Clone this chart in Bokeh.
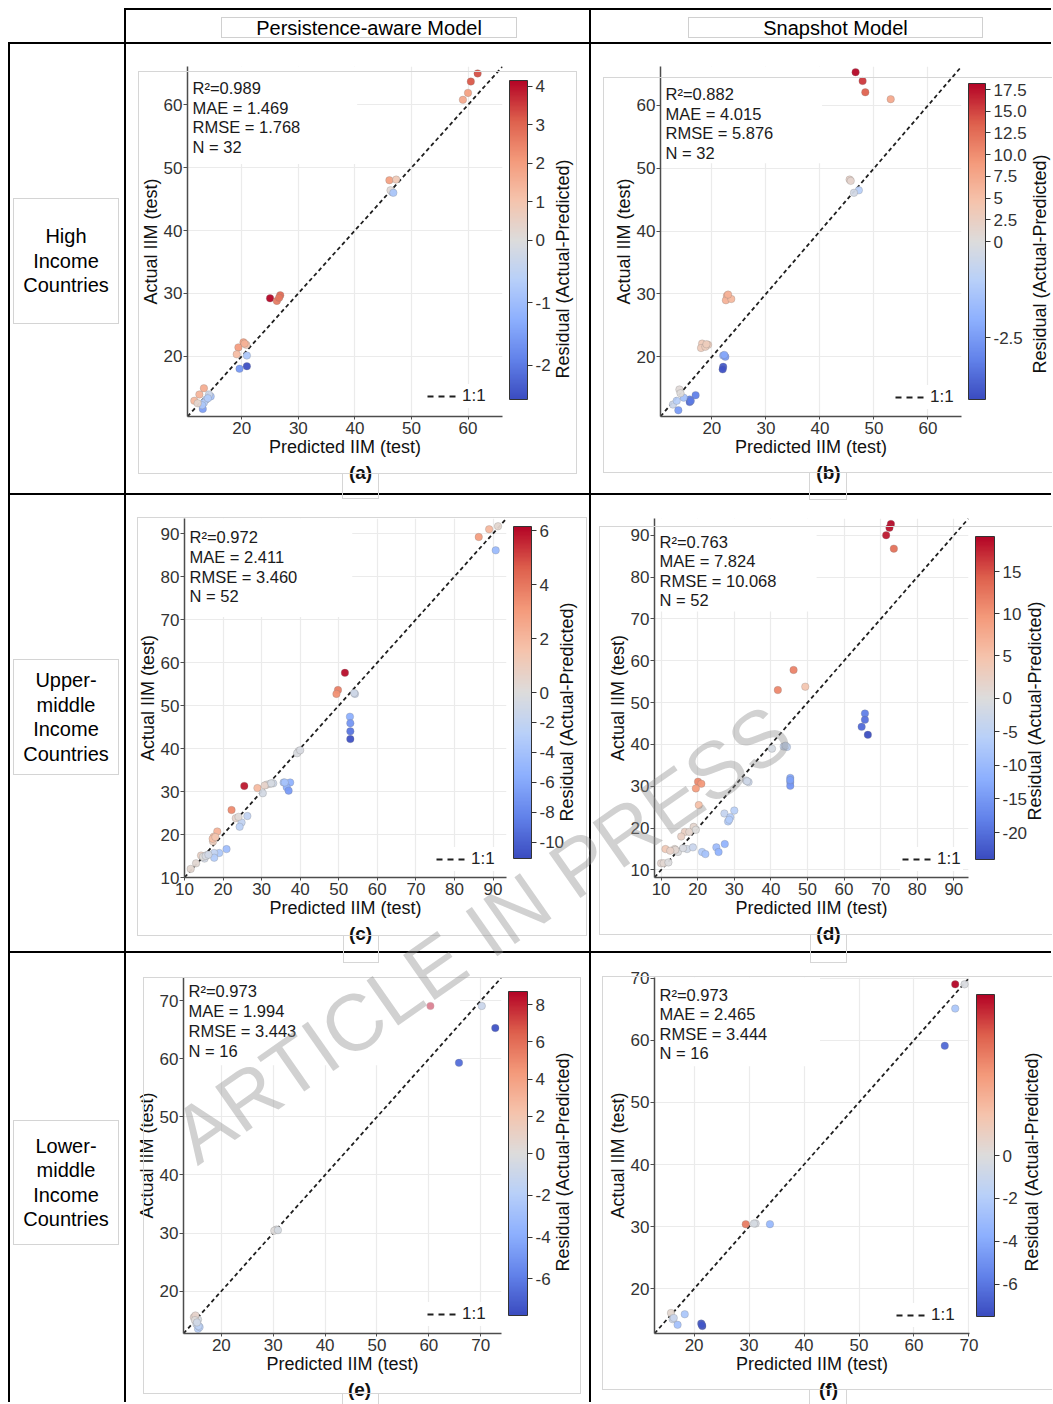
import math
from bokeh.plotting import figure
from bokeh.models import (Range1d, LinearColorMapper, ColorBar, FixedTicker, Legend, LegendItem,
                          Div, BoxAnnotation, ColumnDataSource, Title, Label)
from bokeh.layouts import row, column
from bokeh.embed import file_html
from bokeh.resources import INLINE

FONT = "Liberation Sans"

# ----------------------------- data -----------------------------
col_titles = ["Persistence-aware Model", "Snapshot Model"]
row_titles = [["High", "Income", "Countries"],
              ["Upper-", "middle", "Income", "Countries"],
              ["Lower-", "middle", "Income", "Countries"]]
x_title = "Predicted IIM (test)"
y_title = "Actual IIM (test)"
cb_title = "Residual (Actual-Predicted)"
watermark = "ARTICLE IN PRESS"

# (a) High income - persistence-aware
pred_a = [61.7, 60.5, 60.0, 59.1, 46.1, 47.3, 46.6, 46.3, 25.0, 26.2, 26.8, 26.6, 20.3, 20.8, 19.4, 19.1,
          20.9, 19.6, 20.9, 13.3, 12.5, 11.6, 13.7, 14.5, 13.3, 13.1, 14.2, 13.0, 20.5, 46.8, 12.2, 14.0]
act_a = [65.0, 63.7, 61.9, 60.8, 48.0, 48.1, 46.1, 46.4, 29.2, 28.8, 29.7, 29.3, 22.2, 21.8, 21.4, 20.3,
         20.1, 18.0, 18.4, 14.9, 13.9, 12.9, 13.1, 13.6, 12.6, 11.6, 13.9, 12.2, 22.0, 46.0, 12.5, 13.3]
res_a = [3.3, 3.2, 1.9, 1.7, 1.9, 0.8, -0.5, 0.1, 4.2, 2.6, 2.9, 2.7, 1.9, 1.0, 2.0, 1.2,
         -0.8, -1.6, -2.5, 1.6, 1.4, 1.3, -0.6, -0.9, -0.7, -1.5, -0.3, -0.8, 1.5, -0.8, 0.3, -0.7]
stats_a = ["R\u00b2=0.989", "MAE = 1.469", "RMSE = 1.768", "N = 32"]
lim_a = [10.4, 66.1]
ticks_a = [20, 30, 40, 50, 60]
crange_a = [-2.55, 4.15]
cticks_a = [-2, -1, 0, 1, 2, 3, 4]
clabels_a = ["-2", "-1", "0", "1", "2", "3", "4"]

# (b) High income - snapshot
pred_b = [46.6, 47.9, 48.4, 53.1, 45.5, 45.7, 47.2, 46.3, 22.8, 22.6, 23.6, 23.0, 18.2, 19.3, 18.0, 18.8,
          22.1, 22.5, 22.1, 22.0, 14.0, 17.0, 15.9, 15.9, 14.8, 12.8, 13.8, 14.2, 13.5, 16.1, 22.3, 19.0]
act_b = [65.3, 63.9, 62.1, 61.0, 48.2, 48.0, 46.5, 46.1, 29.7, 29.0, 29.2, 29.9, 22.1, 21.9, 21.4, 21.6,
         20.2, 20.0, 18.4, 18.0, 14.8, 13.9, 13.2, 12.8, 13.5, 12.4, 11.5, 14.2, 13.0, 13.0, 20.3, 22.0]
res_b = [18.0, 15.5, 13.5, 7.5, 2.0, 1.5, -1.0, -0.3, 7.0, 6.5, 5.8, 6.5, 3.5, 3.0, 3.2, 3.0,
         -2.0, -2.5, -3.8, -4.0, 0.5, -3.1, -3.0, -3.5, -1.5, -0.5, -2.5, 0.2, -1.0, -3.2, -2.2, 3.0]
stats_b = ["R\u00b2=0.882", "MAE = 4.015", "RMSE = 5.876", "N = 32"]
lim_b = [10.5, 66.2]
ticks_b = [20, 30, 40, 50, 60]
crange_b = [-4.1, 18.2]
cticks_b = [-2.5, 0, 2.5, 5, 7.5, 10, 12.5, 15, 17.5]
clabels_b = ["-2.5", "0", "2.5", "5", "7.5", "10.0", "12.5", "15.0", "17.5"]

# (c) Upper-middle income - persistence-aware
pred_c = [86.3, 89.0, 91.3, 90.7, 51.6, 49.8, 49.4, 54.2, 52.9, 53.0, 53.0, 53.0, 39.6, 39.2,
          25.5, 28.9, 30.3, 31.3, 33.0, 35.7, 37.4, 36.5, 37.0, 22.2, 23.3, 26.3, 24.8, 24.3,
          18.5, 17.6, 17.4, 20.9, 19.0, 17.7, 17.7, 14.3, 15.2, 11.6, 15.8, 32.2, 17.3, 14.8,
          13.0, 15.5, 16.2, 18.0, 24.0, 30.8, 32.5, 40.0, 54.0, 36.0]
act_c = [89.2, 91.0, 91.7, 86.1, 57.6, 53.6, 52.7, 52.7, 47.4, 45.9, 44.0, 42.2, 39.4, 38.9,
         31.3, 30.8, 29.6, 31.6, 31.9, 32.1, 32.1, 31.0, 30.2, 25.7, 23.8, 24.3, 22.8, 21.8,
         20.7, 19.5, 18.4, 16.6, 15.7, 15.7, 14.6, 15.1, 14.4, 12.0, 15.2, 31.8, 19.0, 14.8,
         13.3, 15.0, 15.3, 19.4, 24.1, 31.4, 31.9, 39.6, 52.9, 32.1]
res_c = [2.9, 2.0, 0.4, -4.6, 6.0, 3.8, 3.3, -1.5, -5.5, -7.1, -9.0, -10.8, -0.2, -0.3,
         5.8, 1.9, -0.7, 0.3, -1.1, -3.6, -5.3, -5.5, -6.8, 3.5, 0.5, -2.0, -2.0, -2.5,
         2.2, 1.9, 1.0, -4.3, -3.3, -2.0, -3.1, 0.8, -0.8, 0.4, -0.6, -0.4, 1.7, 0.0,
         0.3, -0.5, -0.9, 1.4, 0.1, 0.6, -0.6, -0.4, -1.1, -3.9]
stats_c = ["R\u00b2=0.972", "MAE = 2.411", "RMSE = 3.460", "N = 52"]
lim_c = [10.0, 93.5]
ticks_c = [10, 20, 30, 40, 50, 60, 70, 80, 90]
crange_c = [-11.1, 6.16]
cticks_c = [-10, -8, -6, -4, -2, 0, 2, 4, 6]
clabels_c = ["-10", "-8", "-6", "-4", "-2", "0", "2", "4", "6"]

# (d) Upper-middle income - snapshot
pred_d = [72.8, 72.4, 71.5, 73.6, 46.2, 41.9, 49.4, 65.7, 65.7, 64.8, 66.5, 43.5, 44.4, 40.3,
          45.3, 45.3, 45.3, 33.2, 33.9, 20.1, 21.0, 19.5, 20.3, 30.0, 27.3, 28.9, 28.3,
          18.9, 16.5, 17.7, 15.5, 11.2, 13.7, 14.6, 17.1, 18.7, 21.2, 22.1, 25.1, 25.7, 27.4,
          10.0, 10.7, 13.9, 12.0, 16.0, 19.5, 33.5, 44.0, 45.3, 28.6, 12.5]
act_d = [92.7, 91.8, 90.0, 86.8, 57.8, 53.0, 53.8, 47.4, 45.9, 44.2, 42.3, 39.5, 39.4, 39.0,
         32.0, 31.0, 30.1, 31.4, 31.0, 31.1, 30.6, 29.5, 25.5, 24.2, 23.5, 22.6, 21.6,
         20.3, 19.1, 19.1, 18.0, 15.0, 15.0, 14.3, 15.0, 15.4, 14.3, 13.8, 15.4, 14.3, 16.2,
         11.6, 11.6, 14.8, 11.8, 15.2, 19.6, 31.2, 39.7, 31.5, 22.0, 14.6]
res_d = [19.0, 18.5, 18.0, 13.0, 11.5, 11.0, 4.4, -18.3, -19.8, -20.6, -23.8, -4.0, -5.0, -1.3,
         -13.3, -14.3, -15.2, -1.8, -2.9, 11.0, 9.6, 9.0, 5.2, -5.8, -3.8, -6.3, -6.7,
         1.4, 2.6, 1.4, 2.5, 3.8, 1.3, -0.3, -2.1, -3.3, -6.9, -8.3, -9.7, -11.4, -11.2,
         1.6, 0.9, 0.9, -0.2, -0.8, 0.1, -2.3, -4.3, -13.8, -6.6, 2.1]
stats_d = ["R\u00b2=0.763", "MAE = 7.824", "RMSE = 10.068", "N = 52"]
lim_d = [8.2, 94.0]
ticks_d = [10, 20, 30, 40, 50, 60, 70, 80, 90]
crange_d = [-24.0, 19.2]
cticks_d = [-20, -15, -10, -5, 0, 5, 10, 15]
clabels_d = ["-20", "-15", "-10", "-5", "0", "5", "10", "15"]

# (e) Lower-middle income - persistence-aware
pred_e = [60.3, 70.2, 72.8, 65.8, 30.6, 30.2, 14.7, 15.5, 15.5, 15.8, 15.2, 15.0, 15.6, 30.9, 14.9, 15.3]
act_e = [69.1, 69.1, 65.3, 59.3, 30.6, 30.4, 15.5, 15.1, 13.5, 13.8, 14.3, 15.8, 14.0, 30.5, 15.0, 14.6]
res_e = [8.7, -1.0, -7.5, -6.5, -0.1, 0.1, 0.8, -0.4, -2.0, -2.0, -0.9, 0.8, -1.6, -0.4, 0.1, -0.7]
stats_e = ["R\u00b2=0.973", "MAE = 1.994", "RMSE = 3.443", "N = 16"]
lim_e = [12.7, 74.0]
ticks_e = [20, 30, 40, 50, 60, 70]
crange_e = [-7.76, 8.7]
cticks_e = [-6, -4, -2, 0, 2, 4, 6, 8]
clabels_e = ["-6", "-4", "-2", "0", "2", "4", "6", "8"]

# (f) Lower-middle income - snapshot
pred_f = [67.5, 69.2, 67.5, 65.6, 29.4, 31.2, 33.8, 15.8, 16.1, 17.0, 18.3, 21.3, 21.5, 21.4, 30.9, 16.3]
act_f = [69.0, 69.0, 65.1, 59.1, 30.4, 30.5, 30.4, 16.1, 15.1, 14.2, 15.9, 14.4, 14.0, 14.2, 30.5, 15.3]
res_f = [1.6, -0.2, -2.4, -6.5, 1.0, -0.3, -3.2, 0.1, -0.8, -2.7, -2.4, -6.9, -7.3, -7.1, -0.4, -1.0]
stats_f = ["R\u00b2=0.973", "MAE = 2.465", "RMSE = 3.444", "N = 16"]
lim_f = [12.8, 70.1]
ticks_f = [20, 30, 40, 50, 60, 70]
crange_f = [-7.5, 1.6]
cticks_f = [-6, -4, -2, 0]
clabels_f = ["-6", "-4", "-2", "0"]

# ----------------------------- palette (coolwarm) -----------------------------
CW = [(0.0, (59, 76, 192)), (0.125, (98, 130, 234)), (0.25, (141, 176, 254)), (0.375, (184, 208, 249)),
      (0.5, (221, 220, 220)), (0.625, (245, 196, 173)), (0.75, (244, 154, 123)), (0.875, (222, 96, 77)),
      (1.0, (180, 4, 38))]


def cw(t):
    for (t0, c0), (t1, c1) in zip(CW[:-1], CW[1:]):
        if t <= t1:
            f = (t - t0) / (t1 - t0)
            return "#%02x%02x%02x" % tuple(int(round(a + (b - a) * f)) for a, b in zip(c0, c1))
    return "#%02x%02x%02x" % CW[-1][1]


PALETTE = [cw(i / 255.0) for i in range(256)]

# ----------------------------- layout geometry (page px) -----------------------------
GEOM = {
    "a": dict(origin=(126, 44), size=(463, 449), borders=(61, 87, 21, 74), stats=[25, 45, 64, 84],
              legend=(427, 405), cb=(7, 17, 18, 319), cbt=(563, 257), letter=(360, 475), lw=1.222,
              mask=(40.4, 50.6), box=(138, 59, 577, 462), lbox=(342, 379, 487)),
    "b": dict(origin=(591, 44), size=(460, 449), borders=(69, 90, 22, 77), stats=[27, 47, 66, 86],
              legend=(895, 403), cb=(7, 17, 17, 316), cbt=(1040, 252), letter=(828, 474), lw=1.277,
              mask=(40.4, 50.8), box=(603, 65, 1052, 461), lbox=(809, 847, 488)),
    "c": dict(origin=(126, 495), size=(463, 456), borders=(58, 83, 17, 71), stats=[27, 47, 67, 86],
              legend=(436, 868), cb=(7, 19, 18, 332), cbt=(567, 700), letter=(360, 934), lw=1.222,
              mask=(53.5, 70.6), box=(137, 505, 587, 924), lbox=(343, 379, 951)),
    "d": dict(origin=(591, 495), size=(460, 456), borders=(63, 83, 23, 74), stats=[23, 42, 62, 81],
              legend=(902, 865), cb=(7, 18, 19, 323), cbt=(1035, 699), letter=(828, 934), lw=1.277,
              mask=(52.5, 71.8), box=(599, 514, 1052, 923), lbox=(810, 847, 951)),
    "e": dict(origin=(126, 953), size=(463, 449), borders=(57, 88, 22, 67), stats=[17, 37, 57, 77],
              legend=(427, 1322), cb=(7, 18, 19, 324), cbt=(563, 1150), letter=(359, 1390), lw=1.222,
              mask=(66.0, 58.9), fade=True, box=(143, 965, 581, 1382), lbox=(342, 379, 1403)),
    "f": dict(origin=(591, 953), size=(460, 449), borders=(63, 82, 24, 69), stats=[17, 36, 56, 75],
              legend=(896, 1321), cb=(7, 17, 18, 322), cbt=(1032, 1150), letter=(828, 1390), lw=0.999,
              mask=(42.9, 55.8), box=(602, 964, 1052, 1378), lbox=(809, 847, 1403)),
}
WM_POS = (198, 1155)   # page position of the watermark baseline start
WM_ANGLE = 35


def panel(key, pred, act, res, stats, lim, ticks, crange, cticks, clabels):
    g = GEOM[key]
    ox, oy = g["origin"]
    W, H = g["size"]
    bl, br, bt, bb = g["borders"]
    fw, fh = W - bl - br, H - bt - bb
    fl, ft = ox + bl, oy + bt
    fb = ft + fh

    def sx(px):
        return px - fl

    def sy(py):
        return fb - py

    p = figure(width=W, height=H, title=None, x_range=Range1d(lim[0], lim[1]),
               y_range=Range1d(lim[0], lim[1]), min_border_left=bl, min_border_right=br,
               min_border_top=bt, min_border_bottom=bb, output_backend="svg",
               toolbar_location=None, tools="")
    p.outline_line_color = None
    p.background_fill_color = "white"
    p.border_fill_color = "white"

    for ax, lbl in ((p.xaxis[0], x_title), (p.yaxis[0], y_title)):
        ax.ticker = FixedTicker(ticks=ticks)
        ax.axis_label = lbl
        ax.axis_label_text_font = FONT
        ax.axis_label_text_font_size = "18px"
        ax.axis_label_text_font_style = "normal"
        ax.axis_label_text_color = "#111111"
        ax.major_label_text_font = FONT
        ax.major_label_text_font_size = "17px"
        ax.major_label_text_color = "#333333"
        ax.axis_line_color = "#4d4d4d"
        ax.axis_line_width = 1.5
        ax.major_tick_line_color = "#4d4d4d"
        ax.major_tick_in = 0
        ax.minor_tick_line_color = None
    p.yaxis[0].major_tick_out = 4
    p.yaxis[0].major_label_standoff = 1
    p.yaxis[0].axis_label_standoff = 0
    p.xaxis[0].major_tick_out = 3
    p.xaxis[0].major_label_standoff = 2
    p.xaxis[0].axis_label_standoff = 0

    for gr in (p.xgrid[0], p.ygrid[0]):
        gr.ticker = FixedTicker(ticks=ticks)
        gr.grid_line_color = "#ebebeb"
        gr.grid_line_width = 1.2

    # white box pasted behind the statistics text (hides grid lines)
    p.add_layout(BoxAnnotation(left=lim[0], right=g["mask"][0], bottom=g["mask"][1], top=lim[1],
                               fill_color="white", fill_alpha=1.0, line_alpha=0, level="underlay"))

    lo, hi = crange
    norm = [r / hi if r >= 0 else r / (-lo) for r in res]
    mapper = LinearColorMapper(palette=PALETTE, low=-1, high=1)
    src = ColumnDataSource(dict(x=pred, y=act, r=res, n=norm))

    p.line(x=lim, y=lim, line_color="#1f1f1f", line_width=1.8, line_dash="4 3")
    nan = float("nan")
    key_line = p.line(x=[nan, nan], y=[nan, nan], line_color="#1f1f1f", line_width=2, line_dash="6 5")
    p.scatter("x", "y", source=src, size=7.5, fill_color={"field": "n", "transform": mapper},
              fill_alpha=0.95, line_color="#7a7a7a", line_alpha=0.45, line_width=0.6)

    if g.get("fade"):
        # the semi-transparent pasted text box also veils the marks below it
        p.add_layout(BoxAnnotation(left=lim[0] + 0.6 * (g["mask"][0] - lim[0]), right=g["mask"][0],
                                   bottom=g["mask"][1] + 0.5 * (lim[1] - g["mask"][1]), top=lim[1],
                                   fill_color="white", fill_alpha=0.5, line_alpha=0))

    # legend "- - - 1:1"
    pad = 2
    lx, lb = g["legend"]
    leg = Legend(items=[LegendItem(label="1:1", renderers=[key_line])],
                 location=(sx(lx) - pad, sy(lb + 4 + pad)), border_line_alpha=0,
                 background_fill_color="white", background_fill_alpha=1.0, padding=pad, margin=0,
                 glyph_width=30, glyph_height=14, label_standoff=5, spacing=0, label_height=16,
                 label_text_font=FONT, label_text_font_size="17px", label_text_color="#222222")
    p.add_layout(leg)

    # statistics text (inside the plot area)
    for i, s in enumerate(stats):
        p.add_layout(Label(x=5, y=fh - g["stats"][i], x_units="screen", y_units="screen", text=s,
                           text_font=FONT, text_font_size="16.5px", text_color="#1a1a1a",
                           text_baseline="alphabetic"))

    # colour bar with 0 at the middle
    cnorm = [t / hi if t >= 0 else t / (-lo) for t in cticks]
    gx, gb, cwid, chgt = g["cb"]
    cb = ColorBar(color_mapper=mapper, ticker=FixedTicker(ticks=cnorm),
                  major_label_overrides={k: v for k, v in zip(cnorm, clabels)},
                  width=cwid, height=chgt, location=(gx, gb), padding=0, margin=0,
                  bar_line_color="#333333", bar_line_width=1,
                  major_tick_line_color="#333333", major_tick_in=0, major_tick_out=5,
                  minor_tick_line_color=None, label_standoff=3,
                  major_label_text_font=FONT, major_label_text_font_size="17px",
                  major_label_text_color="#333333",
                  background_fill_alpha=0, border_line_color=None)
    p.add_layout(cb, "right")

    # panel letter below the x-axis title
    lx2, ly2 = g["letter"]
    p.add_layout(Title(text="(%s)" % key, align="left", offset=lx2 - fl - g["lw"] * 19 / 2.0,
                       text_font=FONT, text_font_size="19px", text_font_style="bold",
                       text_color="#111111", standoff=0), "below")
    return p


pa = panel("a", pred_a, act_a, res_a, stats_a, lim_a, ticks_a, crange_a, cticks_a, clabels_a)
pb = panel("b", pred_b, act_b, res_b, stats_b, lim_b, ticks_b, crange_b, cticks_b, clabels_b)
pc = panel("c", pred_c, act_c, res_c, stats_c, lim_c, ticks_c, crange_c, cticks_c, clabels_c)
pd = panel("d", pred_d, act_d, res_d, stats_d, lim_d, ticks_d, crange_d, cticks_d, clabels_d)
pe = panel("e", pred_e, act_e, res_e, stats_e, lim_e, ticks_e, crange_e, cticks_e, clabels_e)
pf = panel("f", pred_f, act_f, res_f, stats_f, lim_f, ticks_f, crange_f, cticks_f, clabels_f)

# ----------------------------- table structure -----------------------------
FONT_CSS = "font-family:'Liberation Sans',Arial,sans-serif;"


def vline(h):
    return Div(text="", width=2, height=h, margin=0, styles={"background-color": "black"})


def hline(w):
    return Div(text="", width=w, height=2, margin=0, styles={"background-color": "black"})


def blank(w, h):
    return Div(text="", width=w, height=h, margin=0)


def header_cell(text, w, bx, bw):
    html = ('<div style="margin:7px 0 0 %dpx;width:%dpx;height:21px;border:1px solid #d0d0d0;'
            '%sfont-size:20px;line-height:21px;text-align:center;color:#000;white-space:nowrap;">%s</div>'
            % (bx, bw, FONT_CSS, text))
    return Div(text=html, width=w, height=32, margin=0)


def row_label(lines, h, top, bh):
    body = "<br>".join(lines)
    html = ('<div style="margin:%dpx 0 0 3px;width:106px;height:%dpx;border:1px solid #d4d4d4;'
            'display:flex;flex-direction:column;justify-content:center;align-items:center;'
            '%sfont-size:20px;line-height:24.5px;text-align:center;color:#000;">%s</div>'
            % (top, bh, FONT_CSS, body))
    return Div(text=html, width=114, height=h, margin=0)


# overlay: grey frames of the pasted panels, colour-bar titles and watermark (page pixels)
OVX, OVY = 8, 1402


def ov_box(x0, y0, x1, y1, extra=""):
    return ('<div style="position:absolute;left:%dpx;top:%dpx;width:%dpx;height:%dpx;'
            'border:1px solid #d6d6d6;box-sizing:border-box;%s"></div>'
            % (x0 - OVX, y0 - OVY, x1 - x0, y1 - y0, extra))


def ov_vtext(cx, cy, text):
    return ('<div style="position:absolute;left:%dpx;top:%dpx;transform:translate(-50%%,-50%%) rotate(-90deg);'
            'white-space:nowrap;%sfont-size:18px;line-height:20px;color:#111;">%s</div>'
            % (cx - OVX, cy - OVY, FONT_CSS, text))


parts = []
for k in "abcdef":
    g = GEOM[k]
    x0, y0, x1, y1 = g["box"]
    parts.append(ov_box(x0, y0, x1, y1, "border-right:none;" if x1 >= 1052 else ""))
    lx0, lx1, ly1 = g["lbox"]
    parts.append(ov_box(lx0, y1, lx1, ly1, "border-top:none;"))
    parts.append(ov_vtext(g["cbt"][0], g["cbt"][1], cb_title))
WM_BASE = 68
parts.append('<div style="position:absolute;left:%dpx;top:%dpx;height:80px;line-height:80px;'
             'transform-origin:0px %dpx;transform:rotate(-%ddeg);%sfont-size:80px;'
             'color:rgba(140,140,140,0.40);white-space:nowrap;pointer-events:none;">%s</div>'
             % (WM_POS[0] - OVX, WM_POS[1] - OVY - WM_BASE, WM_BASE, WM_ANGLE, FONT_CSS, watermark))
overlay = Div(text='<div style="position:relative;width:0;height:0;overflow:visible;">%s</div>'
              % "".join(parts), width=1043, height=1, margin=0)

TOTAL_W = 1043
header = row(blank(116, 34), vline(34),
             column(hline(463), header_cell(col_titles[0], 463, 95, 296), spacing=0),
             vline(34),
             column(hline(460), header_cell(col_titles[1], 460, 97, 295), spacing=0),
             spacing=0)
r1 = row(vline(449), row_label(row_titles[0], 449, 154, 126), vline(449), pa, vline(449), pb, spacing=0)
r2 = row(vline(456), row_label(row_titles[1], 456, 164, 116), vline(456), pc, vline(456), pd, spacing=0)
r3 = row(vline(449), row_label(row_titles[2], 449, 167, 125), vline(449), pe, vline(449), pf, spacing=0)

root = column(header, hline(TOTAL_W), r1, hline(TOTAL_W), r2, hline(TOTAL_W), r3, overlay,
              spacing=0, margin=(8, 0, 0, 8))

open("out.html", "w").write(file_html(root, INLINE, title="IIM residual panels"))
